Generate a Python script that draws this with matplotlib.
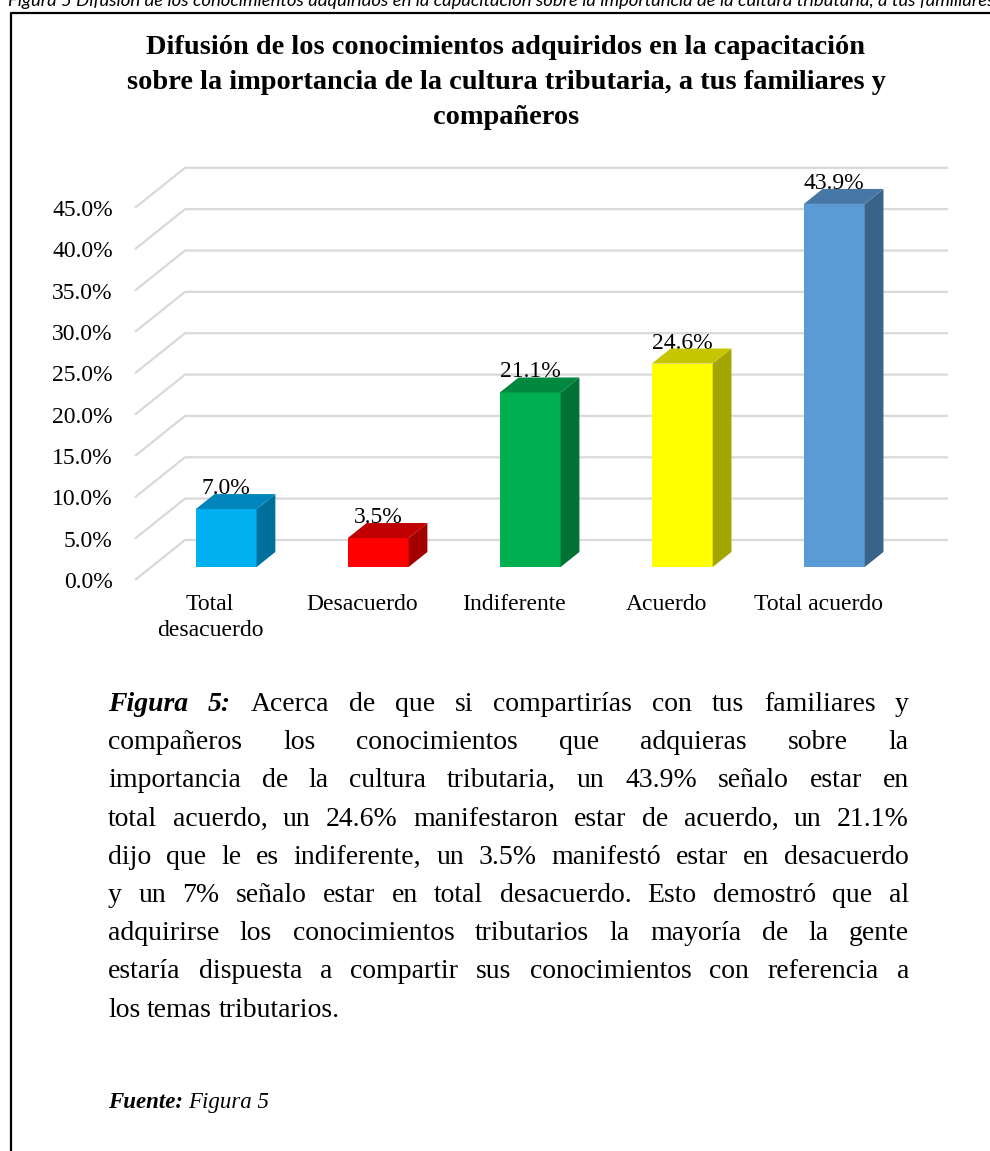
import numpy as np
import matplotlib
matplotlib.use("Agg")
import matplotlib.pyplot as plt
from matplotlib.patches import Polygon
from matplotlib.lines import Line2D

# chart data
categories = ["Total\ndesacuerdo", "Desacuerdo", "Indiferente", "Acuerdo", "Total acuerdo"]
values = [7.0, 3.5, 21.1, 24.6, 43.9]
y_ticks = [0, 5, 10, 15, 20, 25, 30, 35, 40, 45]

front_colors = ["#00B0F0", "#FF0000", "#00B050", "#FFFF00", "#5B9BD5"]
top_colors = ["#0086BC", "#C00000", "#00893E", "#C6C600", "#4777A6"]
side_colors = ["#006F9B", "#A30000", "#007233", "#A5A500", "#3A6389"]

caption = ("Figura 5 Difusión de los conocimientos adquiridos en la capacitación "
           "sobre la importancia de la cultura tributaria, a tus familiares")
title_lines = ["Difusión de los conocimientos adquiridos en la capacitación",
               "sobre la importancia de la cultura tributaria, a tus familiares y",
               "compañeros"]
para_lines = [
    "Figura 5: Acerca de que si compartirías con tus familiares y",
    "compañeros los conocimientos que adquieras sobre la",
    "importancia de la cultura tributaria, un 43.9% señalo estar en",
    "total acuerdo, un 24.6% manifestaron estar de acuerdo, un 21.1%",
    "dijo que le es indiferente, un 3.5% manifestó estar en desacuerdo",
    "y un 7% señalo estar en total desacuerdo. Esto demostró que al",
    "adquirirse los conocimientos tributarios la mayoría de la gente",
    "estaría dispuesta a compartir sus conocimientos con referencia a",
    "los temas tributarios.",
]

SERIF = "Liberation Serif"
W, H = 990, 1151
fig = plt.figure(figsize=(W / 100, H / 100), dpi=100)
renderer = fig.canvas.get_renderer()


def fx(px):
    return px / W


def fy(py):
    return 1 - py / H


def text_width(t):
    return t.get_window_extent(renderer).width


# frame around the figure block
fig.add_artist(Line2D([fx(11), fx(11), fx(990)], [fy(1151), fy(13), fy(13)],
                      color="black", lw=1.6, transform=fig.transFigure))

# caption above the frame (cut at the top in the source)
cap = fig.text(fx(8), fy(6), caption, family="Lato", style="italic",
               fontsize=12, ha="left", va="baseline")
cap.set_fontsize(12 * 980 / text_width(cap))

# chart title
tt = fig.text(fx(506), fy(48), title_lines[0], family=SERIF, fontweight="bold",
              fontsize=18, ha="center", va="center")
tsize = 18 * 718 / text_width(tt)
tt.remove()
for k, line in enumerate(title_lines):
    fig.text(fx(506), fy(48 + 34.5 * k), line, family=SERIF, fontweight="bold",
             fontsize=tsize, ha="center", va="center")

# pseudo 3d column chart
DX, DY = 0.329, 4.84       # depth offset (category units, percent units)
D_F, D_B = 0.325, 0.70     # front / back depth of the columns
BW = 0.40
x0, x_end = -0.493, 4.855

ax = fig.add_axes([fx(135), fy(580), (950 - 135) / W, 413.5 / H])
ax.set_xlim(-0.493, 4.868)
ax.set_ylim(0, 50)
for s in ax.spines.values():
    s.set_visible(False)
ax.patch.set_alpha(0)

for v in y_ticks:
    ax.plot([x0, x0 + DX, x_end], [v, v + DY, v + DY], color="#D9D9D9",
            lw=1.6, zorder=1, clip_on=False, solid_capstyle="butt")

x = np.arange(len(values))
ax.bar(x + D_F * DX, values, width=BW, bottom=D_F * DY, color=front_colors,
       zorder=3)
for i, v in enumerate(values):
    xl = i - BW / 2
    xr = i + BW / 2
    side = [(xr + D_F * DX, D_F * DY), (xr + D_B * DX, D_B * DY),
            (xr + D_B * DX, v + D_B * DY), (xr + D_F * DX, v + D_F * DY)]
    top = [(xl + D_F * DX, v + D_F * DY), (xr + D_F * DX, v + D_F * DY),
           (xr + D_B * DX, v + D_B * DY), (xl + D_B * DX, v + D_B * DY)]
    ax.add_patch(Polygon(side, closed=True, fc=side_colors[i], ec="none", zorder=3))
    ax.add_patch(Polygon(top, closed=True, fc=top_colors[i], ec="none", zorder=3))
    ax.text(i + D_F * DX, v + D_B * DY, f"{v:.1f}%", family=SERIF, fontsize=17,
            ha="center", va="baseline", zorder=2)

ax.set_yticks(y_ticks)
ax.set_yticklabels([f"{v:.1f}%" for v in y_ticks], family=SERIF, fontsize=17)
ax.set_xticks(x)
ax.set_xticklabels(categories, family=SERIF, fontsize=17, linespacing=1.3)
ax.tick_params(axis="y", length=0, pad=16)
ax.tick_params(axis="x", length=0, pad=10)

# justified paragraph under the chart
PSIZE = 20
left, right = 108, 909
base0, step = 711, 38.2
for k, line in enumerate(para_lines):
    words = line.split(" ")
    arts = []
    for j, w in enumerate(words):
        bold = (k == 0 and j < 2)
        t = fig.text(0, fy(base0 + step * k), w, family=SERIF, fontsize=PSIZE,
                     fontweight="bold" if bold else "normal",
                     style="italic" if bold else "normal",
                     ha="left", va="baseline")
        arts.append(t)
    widths = [text_width(t) for t in arts]
    if k == len(para_lines) - 1:
        gap = PSIZE * 100 / 72 * 0.25
    else:
        gap = (right - left - sum(widths)) / (len(arts) - 1)
    pos = left
    for t, w in zip(arts, widths):
        t.set_x(fx(pos))
        pos += w + gap

f1 = fig.text(fx(108), fy(1108), "Fuente:", family=SERIF, fontsize=16.5,
              fontweight="bold", style="italic", ha="left", va="baseline")
fw = text_width(f1)
fig.text(fx(108) + (fw + 5) / W, fy(1108), "Figura 5", family=SERIF, fontsize=16.5,
         style="italic", ha="left", va="baseline")

fig.savefig("out.png", dpi=100)
